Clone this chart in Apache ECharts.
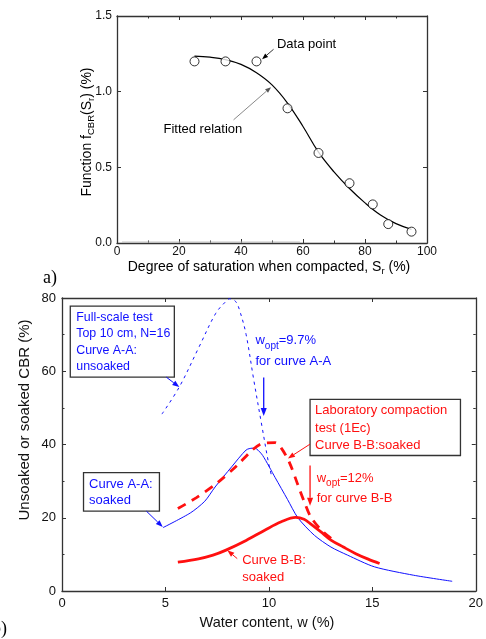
<!DOCTYPE html>
<html><head><meta charset="utf-8">
<script src="https://cdn.jsdelivr.net/npm/echarts@6/dist/echarts.min.js"></script>
<style>html,body{margin:0;padding:0;background:#fff}#c{width:486px;height:639px}</style>
</head><body><div id="c"></div>
<script>
// ---- (a) data ----
const satX = [25, 35, 45, 55, 65, 75, 82.5, 87.5, 95];
const satY = [1.2, 1.2, 1.2, 0.89, 0.595, 0.395, 0.255, 0.125, 0.075];
const fitX = [25, 30, 35, 40, 45, 50, 55, 60, 65, 70, 75, 80, 85, 90, 95];
const fitY = [1.235, 1.228, 1.212, 1.18, 1.125, 1.045, 0.925, 0.77, 0.6, 0.47, 0.36, 0.265, 0.185, 0.128, 0.09];
const grayX = [1.6, 59];
const grayY = [0.006, 0.006];
const aXTicks = [0, 100, 20];
const aYTicks = [0, 1.5, 0.5];
// ---- (b) data ----
const unsoakedAAx = [4.83, 5.67, 6.63, 7.43, 7.91, 8.1, 8.4, 8.63, 8.9, 9.27, 9.67, 9.99, 10.15];
const unsoakedAAy = [48.3, 55.7, 66.7, 75.8, 79, 79.8, 79, 75.8, 70, 57.6, 44.8, 34.8, 31];
const soakedAAx = [4.88, 6.2, 6.9, 7.4, 8.2, 8.9, 9.2, 9.4, 9.7, 10.3, 10.9, 11.4, 12.2, 13.0, 13.8, 15.1, 17.0, 18.86];
const soakedAAy = [17.3, 21.3, 24.5, 28.4, 33.9, 38.5, 39, 38.8, 37, 31, 25, 20, 15.2, 12, 9.8, 6.6, 4.3, 2.65];
const labBBx = [5.6, 6.5, 7.5, 8.5, 9.2, 9.7, 10.3, 10.6, 11.0, 11.4, 11.7, 12.0, 12.5, 13.2];
const labBBy = [22.5, 25.5, 29.5, 34.5, 38.5, 40.3, 40.5, 39, 35, 29, 24.5, 20.5, 16.8, 13.5];
const soakedBBx = [5.6, 6.6, 7.3, 7.9, 8.9, 9.8, 10.6, 11.3, 11.7, 12.0, 12.5, 13.0, 13.6, 14.2, 14.8, 15.35];
const soakedBBy = [7.9, 8.8, 9.8, 11.1, 13.8, 16.6, 18.9, 20.1, 19.6, 18.4, 16.2, 13.9, 12, 10.2, 8.7, 7.5];
const bXTicks = [0, 20, 5];
const bYTicks = [0, 80, 20];

const zip = (a, b) => a.map((v, i) => [v, b[i]]);
const FONT = '"Liberation Sans", Arial, sans-serif';
const AX = '#333';
const BLUE = '#1010ff';
const RED = '#ff1010';

function axis(gi, pos, t, labels, fs, margin, minor, fmt) {
  return {
    type: 'value', gridIndex: gi, position: pos, min: t[0], max: t[1], interval: t[2],
    axisLine: { show: true, onZero: false, lineStyle: { color: AX, width: 1.3 } },
    axisTick: { show: true, inside: true, length: 4, lineStyle: { color: AX, width: 1 } },
    minorTick: { show: !!minor, splitNumber: 2, length: 2.5, lineStyle: { color: AX, width: 1 } },
    splitLine: { show: false }, minorSplitLine: { show: false },
    axisLabel: { show: labels, color: '#111', fontSize: fs, fontFamily: FONT, margin: margin, formatter: fmt }
  };
}

const chart = echarts.init(document.getElementById('c'), null, { renderer: 'canvas' });
const option = {
  animation: false,
  backgroundColor: '#fff',
  grid: [
    { left: 117, top: 16, width: 310, height: 227 },
    { left: 62, top: 298, width: 417, height: 293 }
  ],
  xAxis: [
    axis(0, 'bottom', aXTicks, true, 12, 3, true),
    axis(0, 'top', aXTicks, false, 12, 3, true),
    axis(1, 'bottom', bXTicks, true, 13, 6, false),
    axis(1, 'top', bXTicks, false, 13, 6, false)
  ],
  yAxis: [
    axis(0, 'left', aYTicks, true, 12, 5, false, v => v.toFixed(1)),
    axis(0, 'right', aYTicks, false, 12, 5, false),
    axis(1, 'left', bYTicks, true, 13, 6, true),
    axis(1, 'right', bYTicks, false, 13, 6, true)
  ],
  series: [
    { type: 'line', xAxisIndex: 0, yAxisIndex: 0, data: zip(grayX, grayY), symbol: 'none',
      lineStyle: { color: '#b8b8b8', width: 1 }, z: 1 },
    { type: 'line', xAxisIndex: 0, yAxisIndex: 0, data: zip(fitX, fitY), symbol: 'none', smooth: 0.4,
      lineStyle: { color: '#000', width: 1.2 } },
    { type: 'scatter', xAxisIndex: 0, yAxisIndex: 0, data: zip(satX, satY), symbol: 'circle', symbolSize: 9,
      itemStyle: { color: '#fff', borderColor: '#000', borderWidth: 1 }, z: 5 },
    { type: 'line', xAxisIndex: 2, yAxisIndex: 2, data: zip(unsoakedAAx, unsoakedAAy), symbol: 'none', smooth: 0.35,
      lineStyle: { color: BLUE, width: 1, type: [3, 4] } },
    { type: 'line', xAxisIndex: 2, yAxisIndex: 2, data: zip(soakedAAx, soakedAAy), symbol: 'none', smooth: 0.25,
      lineStyle: { color: BLUE, width: 1 } },
    { type: 'line', xAxisIndex: 2, yAxisIndex: 2, data: zip(labBBx, labBBy), symbol: 'none', smooth: 0.3,
      lineStyle: { color: RED, width: 2.8, type: [9, 7] } },
    { type: 'line', xAxisIndex: 2, yAxisIndex: 2, data: zip(soakedBBx, soakedBBy), symbol: 'none', smooth: 0.35,
      lineStyle: { color: RED, width: 2.8 } }
  ]
};
chart.setOption(option);

// ---- annotations (anchored in data coordinates) ----
const P = (gi, x, y) => chart.convertToPixel({ gridIndex: gi }, [x, y]);
const g = [];
function arrow(gi, a, b, color, w, head) {
  const p1 = P(gi, a[0], a[1]), p2 = P(gi, b[0], b[1]);
  const dx = p2[0] - p1[0], dy = p2[1] - p1[1], L = Math.hypot(dx, dy);
  const ux = dx / L, uy = dy / L, hl = head, hw = head * 0.38;
  const bx = p2[0] - ux * hl, by = p2[1] - uy * hl;
  g.push({ type: 'line', shape: { x1: p1[0], y1: p1[1], x2: bx, y2: by }, style: { stroke: color, lineWidth: w }, z: 50 });
  g.push({ type: 'polygon', shape: { points: [[p2[0], p2[1]], [bx - uy * hw, by + ux * hw], [bx + uy * hw, by - ux * hw]] },
    style: { fill: color }, z: 50 });
}
function box(gi, a, b) {
  const p1 = P(gi, a[0], a[1]), p2 = P(gi, b[0], b[1]);
  g.push({ type: 'rect', shape: { x: p1[0], y: p1[1], width: p2[0] - p1[0], height: p2[1] - p1[1] },
    style: { fill: 'none', stroke: '#333', lineWidth: 1.3 }, z: 40 });
}
function text(gi, at, str, color, lh, va, rich, fs) {
  const p = P(gi, at[0], at[1]);
  g.push({ type: 'text', x: p[0], y: p[1], z: 60,
    style: { text: str, fill: color, fontSize: fs || 13, fontFamily: FONT, lineHeight: lh,
      textAlign: 'left', textVerticalAlign: va || 'top', rich: rich } });
}
const subRich = (c, lh) => ({
  n: { fontSize: 13, fontFamily: FONT, color: c, lineHeight: lh, verticalAlign: 'middle' },
  s: { fontSize: 10, fontFamily: FONT, color: c, lineHeight: 9, verticalAlign: 'bottom' }
});

// (a)
text(0, [51.6, 1.309], 'Data point', '#000', 16, 'middle');
arrow(0, [50.5, 1.28], [46.8, 1.215], '#000', 0.8, 6);
text(0, [15.0, 0.748], 'Fitted relation', '#000', 16, 'middle');
arrow(0, [37.6, 0.814], [49.7, 1.03], '#555', 0.7, 6);

// (b)
box(1, [0.4, 77.8], [5.43, 58.4]);
text(1, [0.69, 76.9], 'Full-scale test\nTop 10 cm, N=16\nCurve A-A:\nunsoaked', BLUE, 16.3, 'top', null, 12.4);
arrow(1, [5.04, 58.4], [5.67, 55.7], BLUE, 1, 7);

text(1, [9.35, 71.2], '{n|w}{s|opt}{n|=9.7%}\n{n|for curve A-A}', BLUE, 21, 'top', subRich(BLUE, 21));
arrow(1, [9.75, 58.3], [9.75, 47.8], BLUE, 1.3, 8);

box(1, [1.04, 32.3], [4.71, 21.8]);
text(1, [1.31, 31.2], 'Curve A-A:\nsoaked', BLUE, 15.7);
arrow(1, [4.08, 21.8], [4.87, 17.5], BLUE, 1, 7);

box(1, [11.99, 52.3], [19.26, 37.0]);
text(1, [12.23, 51.6], 'Laboratory compaction\ntest (1Ec)\nCurve B-B:soaked', RED, 17.5);
arrow(1, [11.99, 40.1], [10.92, 36.2], RED, 1, 7);

text(1, [12.31, 33.6], '{n|w}{s|opt}{n|=12%}\n{n|for curve B-B}', RED, 20, 'top', subRich(RED, 20));
arrow(1, [11.99, 34.3], [11.99, 23.3], RED, 1.3, 8);

text(1, [8.71, 10.5], 'Curve B-B:\nsoaked', RED, 16.6);
arrow(1, [8.47, 8.85], [7.99, 11.1], RED, 1, 7);

// axis titles & panel labels
const titleRich = {
  n: { fontSize: 14, fontFamily: FONT, color: '#111', lineHeight: 18, verticalAlign: 'middle' },
  s: { fontSize: 9.5, fontFamily: FONT, color: '#111', lineHeight: 9, verticalAlign: 'bottom' }
};
g.push({ type: 'text', x: 87, y: 132, rotation: Math.PI / 2, z: 60,
  style: { text: '{n|Function f}{s|CBR}{n|(S}{s|r}{n|) (%)}', rich: titleRich, textAlign: 'center', textVerticalAlign: 'middle' } });
g.push({ type: 'text', x: 269, y: 267, z: 60,
  style: { text: '{n|Degree of saturation when compacted, S}{s|r}{n| (%)}', rich: titleRich, textAlign: 'center', textVerticalAlign: 'middle' } });
g.push({ type: 'text', x: 25, y: 420, rotation: Math.PI / 2, z: 60,
  style: { text: 'Unsoaked or soaked CBR (%)', fill: '#111', fontSize: 15, fontFamily: FONT, textAlign: 'center', textVerticalAlign: 'middle' } });
g.push({ type: 'text', x: 267, y: 623, z: 60,
  style: { text: 'Water content, w (%)', fill: '#111', fontSize: 14.5, fontFamily: FONT, textAlign: 'center', textVerticalAlign: 'middle' } });
g.push({ type: 'text', x: 43, y: 278, z: 60,
  style: { text: 'a)', fill: '#000', fontSize: 18, fontFamily: '"Liberation Serif", serif', textAlign: 'left', textVerticalAlign: 'middle' } });
g.push({ type: 'text', x: 7, y: 629, z: 60,
  style: { text: 'b)', fill: '#000', fontSize: 18, fontFamily: '"Liberation Serif", serif', textAlign: 'right', textVerticalAlign: 'middle' } });

chart.setOption({ graphic: g });
</script></body></html>
